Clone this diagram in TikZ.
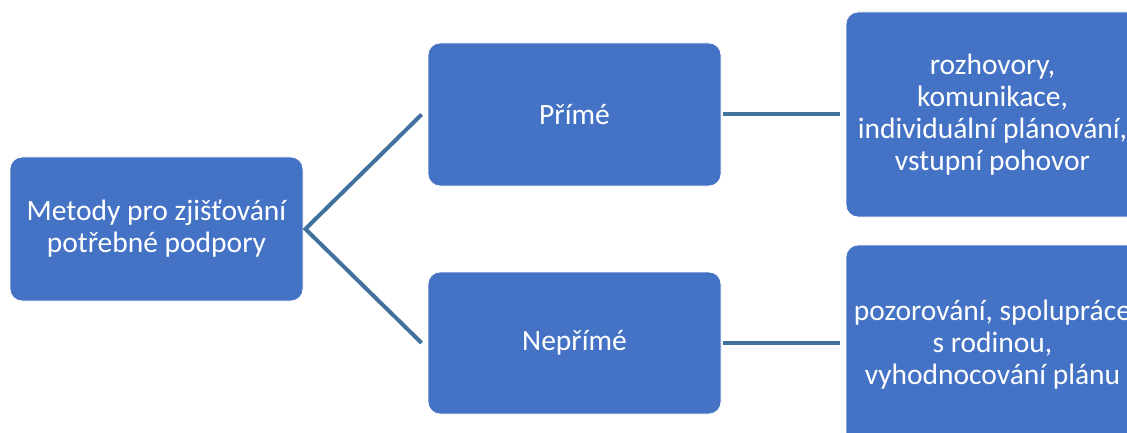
\documentclass[tikz,border=0pt]{standalone}
\usepackage{fontspec}
\setmainfont{Carlito}
\definecolor{boxblue}{HTML}{4472C4}
\definecolor{linkblue}{HTML}{41719C}
\begin{document}
\begin{tikzpicture}[x=1pt,y=-1pt,
  blk/.style={rectangle, rounded corners=12pt, fill=boxblue, draw=white, line width=0.8pt,
    text=white, align=center, inner sep=0pt, minimum width=293pt,
    font=\fontsize{29.5}{32}\selectfont},
  link/.style={draw=linkblue, line width=4pt}]
\useasboundingbox (0,0) rectangle (1127,433);
\clip (0,0) rectangle (1127,433);
\node[blk, minimum height=144pt] (L) at (156.5,229) {Metody pro zjišťování\\potřebné podpory};
\node[blk, minimum height=143pt] (P) at (574.5,114.5) {Přímé};
\node[blk, minimum height=142pt] (N) at (574.5,343) {Nepřímé};
\node[blk, minimum height=205pt] (R1) at (992.5,114.5) {rozhovory,\\komunikace,\\individuální plánování,\\vstupní pohovor};
\node[blk, minimum height=200pt] (R2) at (992.5,345) {pozorování, spolupráce\\s rodinou,\\vyhodnocování plánu};
\coordinate (v) at ([xshift=2pt]L.east);
\draw[link, line join=miter] ([xshift=-6pt]P.west) -- (v) -- ([xshift=-6pt]N.west);
\draw[link] ([xshift=2pt]P.east) -- ([xshift=-6pt]P.east -| R1.west);
\draw[link] ([xshift=2pt]N.east) -- ([xshift=-6pt]N.east -| R2.west);
\end{tikzpicture}
\end{document}
